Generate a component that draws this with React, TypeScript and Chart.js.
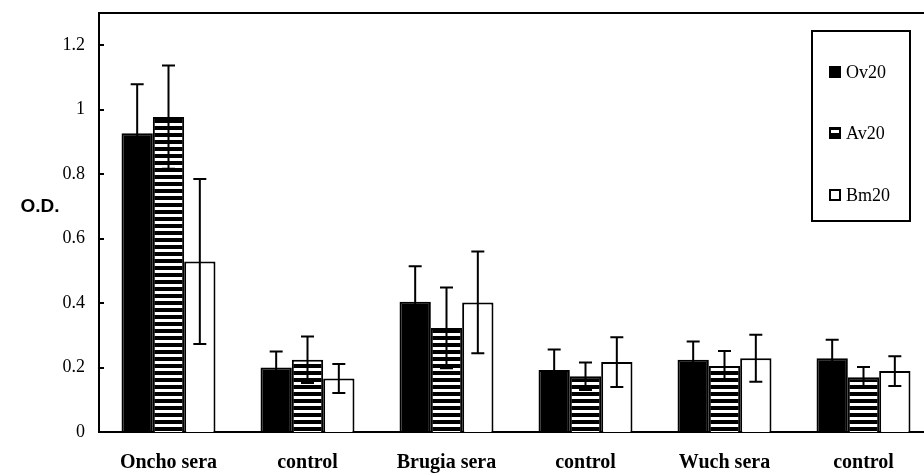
import React, { useEffect, useRef } from 'react';
import { Chart, registerables } from 'chart.js';

Chart.register(...registerables);

const categories = ['Oncho sera', 'control', 'Brugia sera', 'control', 'Wuch sera', 'control'];
const seriesNames = ['Ov20', 'Av20', 'Bm20'];
const ov20 = [0.927, 0.2, 0.404, 0.192, 0.224, 0.229];
const ov20Err = [0.152, 0.05, 0.11, 0.064, 0.057, 0.057];
const av20 = [0.977, 0.224, 0.323, 0.173, 0.205, 0.17];
const av20Err = [0.16, 0.072, 0.125, 0.043, 0.046, 0.032];
const bm20 = [0.529, 0.166, 0.402, 0.217, 0.229, 0.189];
const bm20Err = [0.256, 0.045, 0.158, 0.077, 0.073, 0.046];
const yTickLabels = ['0', '0.2', '0.4', '0.6', '0.8', '1', '1.2'];
const yAxisTitle = 'O.D.';

function makeStripePattern(ctx: CanvasRenderingContext2D) {
  const c = document.createElement('canvas');
  c.width = 8;
  c.height = 7;
  const p = c.getContext('2d')!;
  p.fillStyle = '#fff';
  p.fillRect(0, 0, 8, 7);
  p.fillStyle = '#000';
  p.fillRect(0, 0, 8, 4);
  return ctx.createPattern(c, 'repeat')!;
}

const decorPlugin = {
  id: 'decor',
  afterDatasetsDraw(chart: any) {
    const ctx: CanvasRenderingContext2D = chart.ctx;
    const y = chart.scales.y;
    chart.data.datasets.forEach((ds: any, i: number) => {
      const meta = chart.getDatasetMeta(i);
      meta.data.forEach((bar: any, j: number) => {
        const v = ds.data[j];
        const e = ds.errors[j];
        const yt = y.getPixelForValue(v + e);
        const yb = y.getPixelForValue(v - e);
        ctx.save();
        ctx.strokeStyle = '#000';
        ctx.lineWidth = 2;
        ctx.beginPath();
        ctx.moveTo(bar.x, yt);
        ctx.lineTo(bar.x, yb);
        ctx.moveTo(bar.x - 6.5, yt);
        ctx.lineTo(bar.x + 6.5, yt);
        ctx.moveTo(bar.x - 6.5, yb);
        ctx.lineTo(bar.x + 6.5, yb);
        ctx.stroke();
        ctx.restore();
      });
    });
  },
  afterDraw(chart: any) {
    const ctx: CanvasRenderingContext2D = chart.ctx;
    const a = chart.chartArea;
    const y = chart.scales.y;
    ctx.save();
    ctx.strokeStyle = '#000';
    ctx.lineWidth = 2;
    ctx.beginPath();
    ctx.moveTo(a.left - 1, a.top);
    ctx.lineTo(a.right + 10, a.top);
    ctx.stroke();
    ctx.beginPath();
    y.ticks.forEach((t: any) => {
      const py = Math.round(y.getPixelForValue(t.value));
      ctx.moveTo(a.left, py);
      ctx.lineTo(a.left + 5, py);
    });
    ctx.stroke();
    ctx.fillStyle = '#000';
    ctx.font = 'bold 19px "Liberation Sans", Arial, sans-serif';
    ctx.textAlign = 'center';
    ctx.textBaseline = 'middle';
    ctx.fillText(yAxisTitle, 40, y.getPixelForValue(0.7));
    // legend
    const lx = 812, ly = 31, lw = 98, lh = 190;
    ctx.fillStyle = '#fff';
    ctx.fillRect(lx, ly, lw, lh);
    ctx.strokeRect(lx, ly, lw, lh);
    ctx.font = '18px "Liberation Serif", "Times New Roman", serif';
    ctx.textAlign = 'left';
    const rowY = [72, 133, 195];
    chart.data.datasets.forEach((ds: any, i: number) => {
      const cy = rowY[i];
      const mx = 829, ms = 12;
      if (i === 0) {
        ctx.fillStyle = '#000';
        ctx.fillRect(mx, cy - ms / 2, ms, ms);
      } else if (i === 1) {
        ctx.fillStyle = '#000';
        ctx.fillRect(mx, cy - ms / 2, ms, ms);
        ctx.fillStyle = '#fff';
        ctx.fillRect(mx + 2, cy - 3, ms - 4, 3);
      } else {
        ctx.fillStyle = '#fff';
        ctx.fillRect(mx, cy - ms / 2, ms, ms);
        ctx.lineWidth = 2;
        ctx.strokeRect(mx + 1, cy - ms / 2 + 1, ms - 2, ms - 2);
      }
      ctx.fillStyle = '#000';
      ctx.fillText(ds.label, 846, cy + 1);
    });
    ctx.restore();
  },
};

export default function App() {
  const ref = useRef<HTMLCanvasElement>(null);
  useEffect(() => {
    const canvas = ref.current!;
    const ctx = canvas.getContext('2d')!;
    const stripes = makeStripePattern(ctx);
    const chart = new Chart(canvas, {
      type: 'bar',
      data: {
        labels: categories,
        datasets: [
          { label: seriesNames[0], data: ov20, errors: ov20Err, backgroundColor: '#000', borderColor: '#000', borderWidth: 2 } as any,
          { label: seriesNames[1], data: av20, errors: av20Err, backgroundColor: stripes, borderColor: '#000', borderWidth: 2 } as any,
          { label: seriesNames[2], data: bm20, errors: bm20Err, backgroundColor: '#fff', borderColor: '#000', borderWidth: 2 } as any,
        ],
      },
      options: {
        animation: false,
        responsive: false,
        devicePixelRatio: 1,
        layout: { padding: { top: 13, right: 7, left: 0, bottom: 0 } },
        datasets: { bar: { categoryPercentage: 0.676, barPercentage: 1.0 } },
        plugins: { legend: { display: false }, tooltip: { enabled: false } },
        scales: {
          x: {
            grid: { display: false, drawTicks: false },
            border: { display: true, color: '#000', width: 2 },
            ticks: {
              color: '#000',
              padding: 19,
              maxRotation: 0,
              autoSkip: false,
              font: { family: '"Liberation Serif", "Times New Roman", serif', size: 20, weight: 'bold' },
            },
            afterFit: (s: any) => { s.height = 43; s.paddingLeft = 0; s.paddingRight = 0; },
          },
          y: {
            min: 0,
            max: 1.3,
            grid: { display: false, drawTicks: false },
            border: { display: true, color: '#000', width: 2 },
            ticks: {
              stepSize: 0.2,
              includeBounds: false,
              color: '#000',
              padding: 14,
              font: { family: '"Liberation Serif", "Times New Roman", serif', size: 18 },
              callback: (_v: any, i: number) => yTickLabels[i],
            },
            afterFit: (s: any) => { s.width = 99; s.paddingTop = 0; s.paddingBottom = 0; },
          },
        },
      },
      plugins: [decorPlugin],
    } as any);
    return () => chart.destroy();
  }, []);
  return (
    <div style={{ position: 'fixed', left: 0, top: 0, width: 924, height: 475, overflow: 'hidden', background: '#fff' }}>
      <div style={{ width: 940, height: 475, position: 'relative' }}>
        <canvas ref={ref} width={940} height={475} style={{ display: 'block' }} />
      </div>
    </div>
  );
}
